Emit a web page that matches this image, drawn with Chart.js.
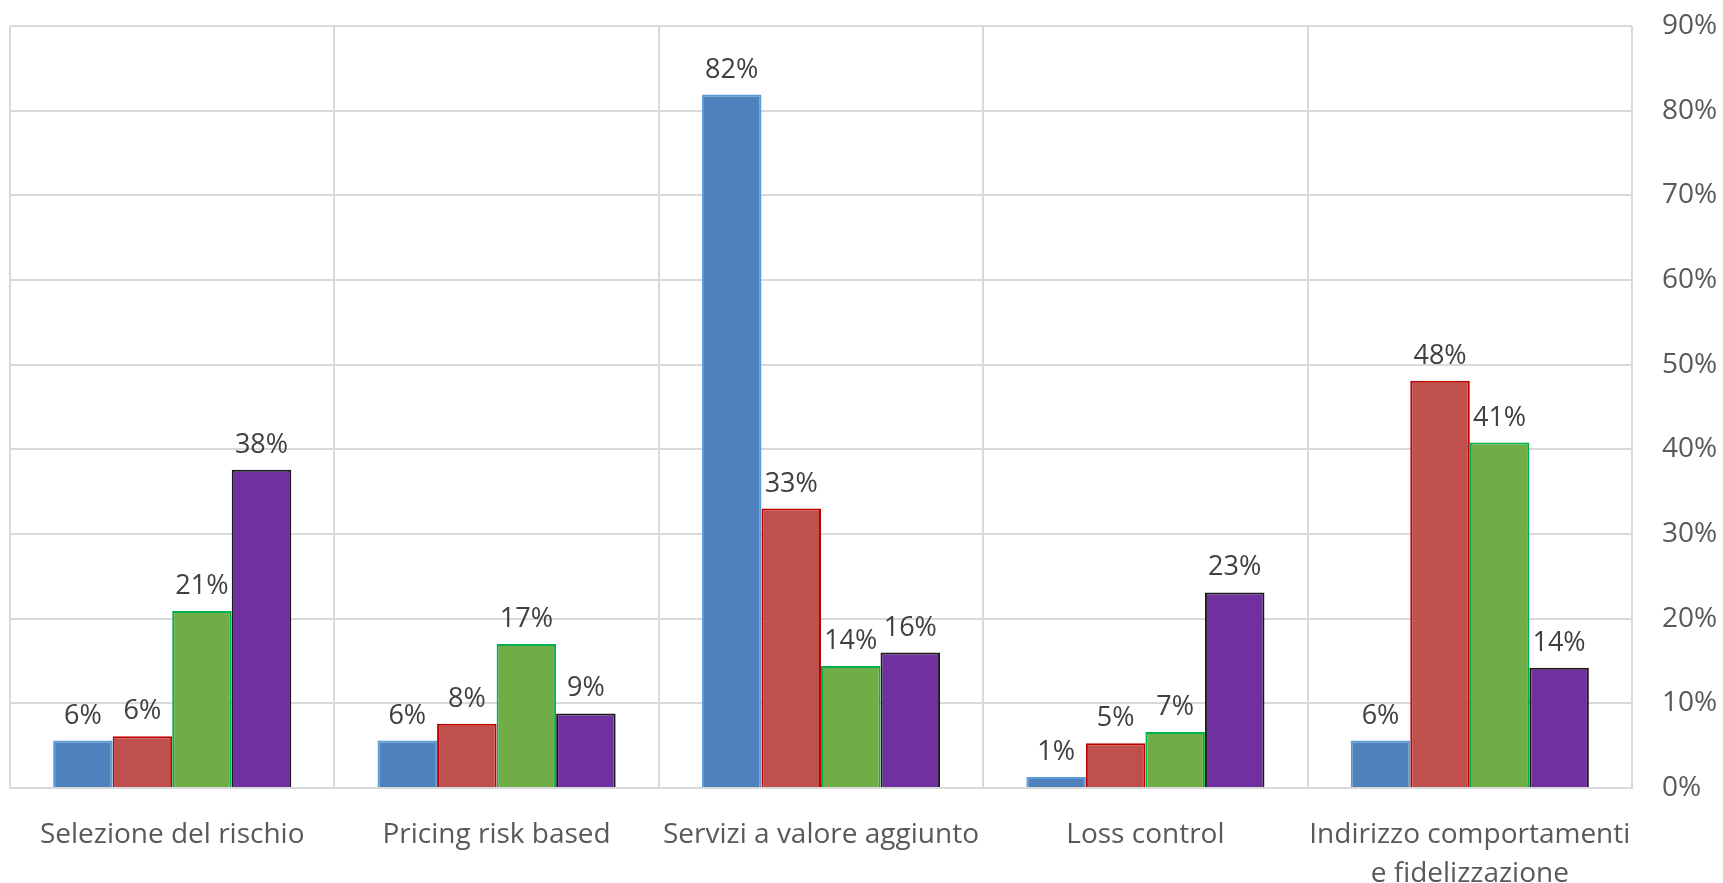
<!DOCTYPE html>
<html>
<head>
<meta charset="utf-8">
<script src="https://cdn.jsdelivr.net/npm/chart.js@4"></script>
<style>
  body { margin: 0; background: #fff; }
  #wrap { width: 1723px; height: 883px; }
</style>
</head>
<body>
<div id="wrap"><canvas id="barChart"></canvas></div>
<script>
const categories = [
    "Selezione del rischio",
    "Pricing risk based",
    "Servizi a valore aggiunto",
    "Loss control",
    ["Indirizzo comportamenti", "e fidelizzazione"]
];
const blueValues = [5.6, 5.6, 81.9, 1.3, 5.6];
const redValues = [6.1, 7.6, 33.0, 5.3, 48.1];
const greenValues = [20.9, 17.0, 14.4, 6.6, 40.8];
const purpleValues = [37.6, 8.8, 16.0, 23.1, 14.2];
const yTicks = [0, 10, 20, 30, 40, 50, 60, 70, 80, 90];

const FONT = "'Open Sans', sans-serif";

// draws the value above each bar
const barLabels = {
    id: "barLabels",
    afterDatasetsDraw(chart) {
        const ctx = chart.ctx;
        ctx.save();
        ctx.font = "27px " + FONT;
        ctx.fillStyle = "#404040";
        ctx.textAlign = "center";
        ctx.textBaseline = "alphabetic";
        chart.data.datasets.forEach((ds, i) => {
            chart.getDatasetMeta(i).data.forEach((bar, j) => {
                ctx.fillText(Math.round(ds.data[j]) + "%", bar.x, bar.y - 17);
            });
        });
        ctx.restore();
    }
};

function makeSet(data, fill, border) {
    return {
        data: data,
        backgroundColor: fill,
        borderColor: border,
        borderWidth: 2,
        barPercentage: 1,
        categoryPercentage: 0.734
    };
}

new Chart(document.getElementById("barChart"), {
    type: "bar",
    data: {
        labels: categories,
        datasets: [
            makeSet(blueValues, "#4f81bd", "#5b9bd5"),
            makeSet(redValues, "#c0504d", "#c00000"),
            makeSet(greenValues, "#70ad47", "#00b050"),
            makeSet(purpleValues, "#7030a0", "#1a1a1a")
        ]
    },
    options: {
        responsive: true,
        maintainAspectRatio: false,
        animation: false,
        layout: { padding: { top: 26, left: 10, right: 0, bottom: 0 } },
        plugins: {
            legend: { display: false },
            tooltip: { enabled: false }
        },
        scales: {
            x: {
                grid: { color: "#d9d9d9", lineWidth: 2, drawTicks: false, offset: true },
                border: { color: "#d9d9d9", width: 2 },
                ticks: {
                    color: "#595959",
                    font: { family: FONT, size: 28, lineHeight: 1.38 },
                    padding: 28,
                    maxRotation: 0,
                    autoSkip: false
                },
                afterFit(scale) {
                    scale.height = 95;
                    scale.paddingLeft = 0;
                    scale.paddingRight = 0;
                }
            },
            y: {
                position: "right",
                min: 0,
                max: 90,
                afterBuildTicks(scale) { scale.ticks = yTicks.map(v => ({ value: v })); },
                grid: { color: "#d9d9d9", lineWidth: 2, drawTicks: false },
                border: { display: false },
                ticks: {
                    color: "#595959",
                    font: { family: FONT, size: 28 },
                    padding: 30,
                    callback: v => v + "%"
                },
                afterFit(scale) {
                    scale.width = 91;
                    scale.paddingTop = 0;
                    scale.paddingBottom = 0;
                }
            }
        }
    },
    plugins: [barLabels]
});
</script>
</body>
</html>
